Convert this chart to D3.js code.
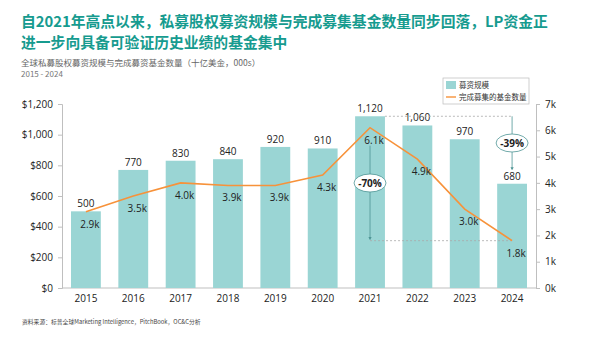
<!DOCTYPE html>
<html>
<head>
<meta charset="utf-8">
<script src="https://cdn.jsdelivr.net/npm/d3@7"></script>
<style>
  body { margin: 0; background: #fff; }
  text { font-family: "Noto Sans CJK SC", "Noto Sans", sans-serif; }
  .axis path, .axis line { stroke: #bfbfbf; }
  .axis text { fill: #222; font-size: 10px; font-family: "Open Sans", "Noto Sans", sans-serif; }
</style>
</head>
<body>
<div id="chart"></div>
<script>
const years = ['2015','2016','2017','2018','2019','2020','2021','2022','2023','2024']
const raised = [500, 770, 830, 840, 920, 910, 1120, 1060, 970, 680]
const funds = [2.9, 3.5, 4.0, 3.9, 3.9, 4.3, 6.1, 4.9, 3.0, 1.8]
const leftTicks = [0, 200, 400, 600, 800, 1000, 1200]
const rightTicks = [0, 1, 2, 3, 4, 5, 6, 7]

const width = 599, height = 337
const teal = '#169b8f', barColor = '#9ad5d4', lineColor = '#f7923a', arrowColor = '#4f9595'

const svg = d3.select('#chart').append('svg')
  .attr('width', width)
  .attr('height', height)

// titles
const title = svg.append('text')
  .attr('fill', teal)
  .style('font-size', '14.8px')
  .style('font-weight', 'bold')
title.append('tspan').attr('x', 21).attr('y', 27).text('自2021年高点以来，私募股权募资规模与完成募集基金数量同步回落，LP资金正')
title.append('tspan').attr('x', 21).attr('y', 48).text('进一步向具备可验证历史业绩的基金集中')

svg.append('text').attr('x', 21).attr('y', 66)
  .attr('fill', '#666').style('font-size', '8.5px')
  .text('全球私募股权募资规模与完成募资基金数量（十亿美金，000s）')
svg.append('text').attr('x', 21).attr('y', 77)
  .attr('fill', '#777').style('font-size', '8px')
  .text('2015 - 2024')

svg.append('text').attr('x', 22).attr('y', 324)
  .attr('fill', '#444').style('font-size', '5.8px')
  .text('资料来源：标普全球Marketing Intelligence，PitchBook，OC&C分析')

// scales
const x = d3.scaleBand().domain(years).range([62, 536]).paddingInner(0.37).paddingOuter(0.19)
const yL = d3.scaleLinear().domain([0, 1200]).range([288, 104])
const yR = d3.scaleLinear().domain([0, 7]).range([288, 104])

svg.append('g').attr('class', 'axis')
  .attr('transform', 'translate(62,0)')
  .call(d3.axisLeft(yL).tickValues(leftTicks).tickSize(4).tickFormat(d => '$' + d3.format(',')(d)))
  .call(g => g.selectAll('text').attr('dx', '-2'))

svg.append('g').attr('class', 'axis')
  .attr('transform', 'translate(536,0)')
  .call(d3.axisRight(yR).tickValues(rightTicks).tickSize(4).tickFormat(d => d + 'k'))
  .call(g => g.selectAll('text').attr('dx', '2'))

svg.append('g').attr('class', 'axis')
  .attr('transform', 'translate(0,288)')
  .call(d3.axisBottom(x).tickSize(0).tickPadding(7))
  .call(g => g.select('.domain').attr('d', 'M62,0H536'))

// bars
svg.append('g').selectAll('rect')
  .data(years)
  .enter()
  .append('rect')
  .attr('x', d => x(d))
  .attr('width', x.bandwidth())
  .attr('y', (d, i) => yL(raised[i]))
  .attr('height', (d, i) => 288 - yL(raised[i]))
  .attr('fill', barColor)

svg.append('g').selectAll('text')
  .data(years)
  .enter()
  .append('text')
  .attr('x', d => x(d) + x.bandwidth() / 2)
  .attr('y', (d, i) => yL(raised[i]) - 4)
  .attr('text-anchor', 'middle')
  .attr('fill', '#222')
  .style('font-size', '10px')
  .style('font-family', '"Open Sans", sans-serif')
  .text((d, i) => d3.format(',')(raised[i]))

// annotations
const cx = d => x(d) + x.bandwidth() / 2
const ann = svg.append('g')
svg.append('defs').append('marker')
  .attr('id', 'arr').attr('viewBox', '0 0 6 6').attr('refX', 3).attr('refY', 3)
  .attr('markerWidth', 4).attr('markerHeight', 4).attr('orient', 'auto')
  .append('path').attr('d', 'M0,0L6,3L0,6Z').attr('fill', arrowColor)

ann.append('line')
  .attr('x1', x('2021') + x.bandwidth()).attr('x2', cx('2024'))
  .attr('y1', yL(1120)).attr('y2', yL(1120))
  .attr('stroke', '#aaa').attr('stroke-dasharray', '2,2').attr('stroke-width', 0.8)
ann.append('line')
  .attr('x1', cx('2024')).attr('x2', cx('2024'))
  .attr('y1', yL(1120)).attr('y2', yL(680) - 15)
  .attr('stroke', arrowColor).attr('stroke-width', 0.8).attr('marker-end', 'url(#arr)')

ann.append('line')
  .attr('x1', cx('2021')).attr('x2', cx('2024'))
  .attr('y1', yR(1.8)).attr('y2', yR(1.8))
  .attr('stroke', '#aaa').attr('stroke-dasharray', '2,2').attr('stroke-width', 0.8)
ann.append('line')
  .attr('x1', cx('2021')).attr('x2', cx('2021'))
  .attr('y1', yR(6.1) + 18).attr('y2', yR(1.8) - 2)
  .attr('stroke', arrowColor).attr('stroke-width', 0.8).attr('marker-end', 'url(#arr)')

const bubbles = [
  { year: '2021', y: 183, label: '-70%' },
  { year: '2024', y: 143, label: '-39%' }
]
bubbles.forEach(b => {
  ann.append('ellipse')
    .attr('cx', cx(b.year)).attr('cy', b.y).attr('rx', 16).attr('ry', 9)
    .attr('fill', '#fff').attr('stroke', arrowColor).attr('stroke-width', 0.8)
  ann.append('text')
    .attr('x', cx(b.year)).attr('y', b.y + 4)
    .attr('text-anchor', 'middle')
    .attr('fill', '#222')
    .style('font-size', '10px').style('font-weight', 'bold')
    .style('font-family', '"Open Sans", sans-serif')
    .text(b.label)
})

// line
const line = d3.line()
  .x((d, i) => cx(years[i]))
  .y(d => yR(d))

svg.append('path')
  .datum(funds)
  .attr('d', line)
  .attr('fill', 'none')
  .attr('stroke', lineColor)
  .attr('stroke-width', 1.6)

svg.append('g').selectAll('text')
  .data(funds)
  .enter()
  .append('text')
  .attr('x', (d, i) => cx(years[i]) + 4)
  .attr('y', d => yR(d) + 16)
  .attr('text-anchor', 'middle')
  .attr('fill', '#222')
  .style('font-size', '10px')
  .style('font-family', '"Open Sans", sans-serif')
  .text(d => d.toFixed(1) + 'k')

// legend
const legend = svg.append('g').attr('transform', 'translate(443,78)')
legend.append('rect').attr('width', 86).attr('height', 26)
  .attr('fill', '#fff').attr('stroke', '#bbb').attr('stroke-width', 0.7)
legend.append('rect').attr('x', 3).attr('y', 3).attr('width', 10).attr('height', 8).attr('fill', barColor)
legend.append('text').attr('x', 16).attr('y', 10).style('font-size', '7.5px').attr('fill', '#333').text('募资规模')
legend.append('line').attr('x1', 3).attr('x2', 13).attr('y1', 19).attr('y2', 19)
  .attr('stroke', lineColor).attr('stroke-width', 1.4)
legend.append('text').attr('x', 16).attr('y', 21.5).style('font-size', '7.5px').attr('fill', '#333').text('完成募集的基金数量')
</script>
</body>
</html>
